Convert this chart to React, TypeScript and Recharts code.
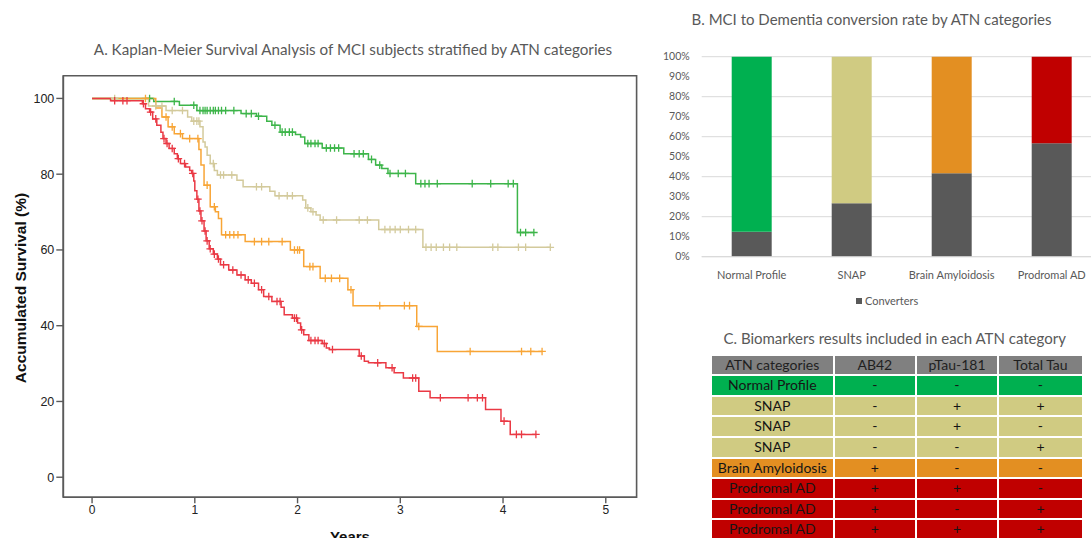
import React from 'react';
import {
  ComposedChart, Line, XAxis, YAxis, ReferenceArea,
  BarChart, Bar, CartesianGrid, Cell,
} from 'recharts';

// ---- A. Kaplan-Meier curves: [years, survival %] at each drop, plus censored times ----
const normalSteps = [
  [0, 100], [0.6, 99.2], [0.85, 98.2], [1.02, 96.8], [1.45, 96.0], [1.6, 95.3], [1.7, 94.0],
  [1.75, 92.9], [1.83, 91.1], [1.98, 90.5], [2.03, 89.8], [2.07, 88.1], [2.24, 86.9], [2.45, 85.4],
  [2.69, 83.9], [2.76, 82.4], [2.82, 81.5], [2.88, 80.2], [3.15, 77.5], [4.14, 64.6],
];
const normalCensored = [
  0.56, 0.8, 0.99, 1.05, 1.08, 1.1, 1.12, 1.15, 1.18, 1.2, 1.23, 1.26, 1.3, 1.38, 1.5, 1.55, 1.62,
  1.78, 1.85, 1.88, 1.92, 1.95, 2.1, 2.13, 2.17, 2.2, 2.28, 2.32, 2.36, 2.4, 2.55, 2.6, 2.64, 2.72,
  2.8, 2.9, 2.98, 3.05, 3.2, 3.24, 3.28, 3.36, 3.7, 3.88, 4.05, 4.1, 4.17, 4.22,
];
const normalEnd = 4.3;

const snapSteps = [
  [0, 100], [0.55, 98.0], [0.72, 96.8], [0.93, 95.1], [0.97, 94.0], [1.05, 92.5], [1.08, 88.5],
  [1.1, 87.2], [1.12, 85.0], [1.15, 82.8], [1.19, 81.0], [1.22, 79.8], [1.41, 78.4], [1.47, 76.7],
  [1.73, 75.5], [1.78, 74.3], [2.05, 73.2], [2.08, 71.1], [2.13, 70.1], [2.18, 69.2], [2.22, 67.9],
  [2.79, 65.4], [3.22, 60.7],
];
const snapCensored = [
  0.22, 0.62, 0.68, 0.78, 0.88, 0.99, 1.02, 1.04, 1.18, 1.25, 1.28, 1.36, 1.6, 1.65, 1.82, 1.9,
  1.95, 2.1, 2.15, 2.25, 2.38, 2.6, 2.68, 2.85, 2.9, 2.95, 3.0, 3.08, 3.15, 3.25, 3.3, 3.35, 3.42,
  3.48, 3.55, 3.9, 3.95, 4.15, 4.22,
];
const snapEnd = 4.46;

const amyloidSteps = [
  [0, 100], [0.62, 97.5], [0.68, 95.1], [0.74, 92.5], [0.8, 90.7], [0.88, 89.4], [1.04, 86.5],
  [1.06, 82.4], [1.09, 77.1], [1.15, 71.4], [1.2, 70.1], [1.23, 68.3], [1.26, 64.0], [1.49, 62.2],
  [1.93, 60.0], [2.06, 55.6], [2.22, 52.5], [2.49, 49.5], [2.54, 45.3], [3.16, 39.8], [3.36, 33.2],
];
const amyloidCensored = [
  0.52, 0.72, 0.78, 0.86, 0.95, 1.03, 1.12, 1.19, 1.3, 1.34, 1.38, 1.42, 1.58, 1.65, 1.72, 1.85,
  1.97, 2.0, 2.02, 2.12, 2.15, 2.27, 2.33, 2.41, 2.52, 2.8, 3.04, 3.09, 3.18, 3.68, 4.18, 4.27,
];
const amyloidEnd = 4.38;

const prodromalSteps = [
  [0, 100], [0.18, 99.4], [0.49, 98.6], [0.52, 97.3], [0.56, 96.4], [0.59, 94.6], [0.63, 92.9],
  [0.67, 91.1], [0.69, 89.4], [0.72, 88.1], [0.75, 86.8], [0.8, 85.4], [0.83, 84.1], [0.86, 82.8],
  [0.91, 81.9], [0.95, 81.0], [0.97, 80.2], [0.99, 78.2], [1.0, 75.6], [1.02, 73.4], [1.04, 70.3],
  [1.06, 67.7], [1.09, 65.0], [1.11, 62.4], [1.14, 60.3], [1.18, 58.9], [1.22, 57.6], [1.25, 56.1],
  [1.33, 54.7], [1.41, 53.4], [1.49, 52.1], [1.55, 51.2], [1.62, 49.5], [1.67, 47.7], [1.75, 46.4],
  [1.84, 44.9], [1.87, 42.9], [1.95, 42.0], [2.0, 40.7], [2.03, 38.9], [2.06, 37.6], [2.11, 36.1],
  [2.24, 35.3], [2.28, 34.1], [2.31, 33.7], [2.6, 32.0], [2.65, 30.6], [2.69, 30.2], [2.86, 28.9],
  [2.94, 27.6], [3.03, 26.2], [3.18, 22.7], [3.29, 21.0], [3.83, 17.9], [3.98, 14.8], [4.07, 11.3],
];
const prodromalCensored = [
  0.22, 0.3, 0.34, 0.5, 0.57, 0.62, 0.7, 0.73, 0.78, 0.84, 0.9, 0.98, 1.03, 1.05, 1.07, 1.1, 1.12,
  1.15, 1.19, 1.23, 1.28, 1.37, 1.45, 1.52, 1.58, 1.65, 1.72, 1.8, 1.83, 1.97, 1.99, 2.04, 2.13,
  2.17, 2.2, 2.26, 2.34, 2.62, 2.78, 2.92, 3.12, 3.15, 3.39, 3.66, 3.75, 3.8, 4.01, 4.13, 4.18,
];
const prodromalEnd = 4.32;

const yearTicks = [0, 1, 2, 3, 4, 5];
const survivalTicks = [0, 20, 40, 60, 80, 100];

// ---- B. conversion rate ----
const categories = ['Normal Profile', 'SNAP', 'Brain Amyloidosis', 'Prodromal AD'];
const converters = [12.5, 26.7, 41.7, 56.7];
const percentTicks = [0, 10, 20, 30, 40, 50, 60, 70, 80, 90, 100];

// ---- C. biomarker table ----
const tableHeader = ['ATN categories', 'AB42', 'pTau-181', 'Total Tau'];
const tableRows = [
  ['Normal Profile', '-', '-', '-'],
  ['SNAP', '-', '+', '+'],
  ['SNAP', '-', '+', '-'],
  ['SNAP', '-', '-', '+'],
  ['Brain Amyloidosis', '+', '-', '-'],
  ['Prodromal AD', '+', '+', '-'],
  ['Prodromal AD', '+', '-', '+'],
  ['Prodromal AD', '+', '+', '+'],
];

const KM_COLORS = { normal: '#3db54a', snap: '#d3ca9c', amyloid: '#f8a536', prodromal: '#ea3944' };
const CAT_COLORS: Record<string, string> = {
  'Normal Profile': '#00b050',
  SNAP: '#d0cb82',
  'Brain Amyloidosis': '#e38f22',
  'Prodromal AD': '#c00000',
};

const calibri = 'Lato, "Open Sans", sans-serif';
const spss = '"Liberation Sans Narrow", "Liberation Sans", Arial, sans-serif';

function kmRows(steps: number[][], censored: number[], end: number) {
  const valueAt = (x: number) => {
    let v = steps[0][1];
    for (const [t, s] of steps) if (t <= x) v = s;
    return v;
  };
  const rows = steps.map(([t, s]) => ({ t, s, c: false }));
  censored.forEach((t) => rows.push({ t, s: valueAt(t), c: true }));
  rows.push({ t: end, s: valueAt(end), c: true });
  return rows.sort((a, b) => a.t - b.t);
}

const censorDot = (color: string) => (props: any) => {
  const { cx, cy, payload, index } = props;
  if (!payload.c || cx == null) return <g key={`n-${index}`} />;
  return (
    <path
      key={`c-${index}`}
      d={`M${cx - 3.8},${cy}h7.6M${cx},${cy - 3.8}v7.6`}
      stroke={color}
      strokeWidth={1.3}
      fill="none"
    />
  );
};

const series = [
  { key: 'normal', rows: kmRows(normalSteps, normalCensored, normalEnd), color: KM_COLORS.normal },
  { key: 'snap', rows: kmRows(snapSteps, snapCensored, snapEnd), color: KM_COLORS.snap },
  { key: 'amyloid', rows: kmRows(amyloidSteps, amyloidCensored, amyloidEnd), color: KM_COLORS.amyloid },
  { key: 'prodromal', rows: kmRows(prodromalSteps, prodromalCensored, prodromalEnd), color: KM_COLORS.prodromal },
];

const barData = categories.map((name, i) => ({ name, conv: converters[i], rest: 100 - converters[i] }));

const X_MIN = -0.28;
const X_MAX = 5.3;
const Y_MIN = -5.3;
const Y_MAX = 106;

function SurvivalChart() {
  return (
    <ComposedChart width={650} height={538} margin={{ top: 75.7, right: 13.4, bottom: 0, left: 17.3 }}>
      <ReferenceArea x1={X_MIN} x2={X_MAX} y1={Y_MIN} y2={Y_MAX} fill="none" stroke="#5a5a5a" strokeWidth={1.6} />
      <XAxis
        dataKey="t"
        type="number"
        domain={[X_MIN, X_MAX]}
        ticks={yearTicks}
        allowDataOverflow
        height={40.7}
        tickSize={6}
        tickMargin={2}
        axisLine={{ stroke: '#5a5a5a', strokeWidth: 1.6 }}
        tickLine={{ stroke: '#5a5a5a', strokeWidth: 1.4 }}
        tick={{ fill: '#222', fontSize: 12, fontFamily: spss }}
        label={{ value: 'Years', position: 'insideBottom', offset: -4, fill: '#111', fontSize: 15, fontWeight: 700, fontFamily: spss }}
      />
      <YAxis
        type="number"
        domain={[Y_MIN, Y_MAX]}
        ticks={survivalTicks}
        allowDataOverflow
        width={46}
        tickSize={7}
        tickMargin={2}
        axisLine={{ stroke: '#5a5a5a', strokeWidth: 1.6 }}
        tickLine={{ stroke: '#5a5a5a', strokeWidth: 1.4 }}
        tick={{ fill: '#222', fontSize: 12.5, fontFamily: spss }}
        label={{
          content: () => (
            <text
              x={26}
              y={288}
              transform="rotate(-90 26 288)"
              textAnchor="middle"
              fill="#111"
              fontSize={15.5}
              fontWeight={700}
              fontFamily={'"Liberation Sans", Arial, sans-serif'}
            >
              Accumulated Survival (%)
            </text>
          ),
        }}
      />
      {series.map((s) => (
        <Line
          key={s.key}
          data={s.rows}
          dataKey="s"
          type="stepAfter"
          stroke={s.color}
          strokeWidth={1.5}
          dot={censorDot(s.color)}
          activeDot={false}
          isAnimationActive={false}
        />
      ))}
    </ComposedChart>
  );
}

function ConversionChart() {
  return (
    <BarChart width={460} height={320} data={barData} margin={{ top: 56.7, right: 8.3, bottom: 33.3, left: 0 }}>
      <CartesianGrid vertical={false} stroke="#d9d9d9" />
      <XAxis
        dataKey="name"
        height={30}
        axisLine={{ stroke: '#d9d9d9' }}
        tickLine={false}
        tickMargin={8}
        tick={{ fill: '#595959', fontSize: 11, fontFamily: calibri }}
      />
      <YAxis
        domain={[0, 100]}
        ticks={percentTicks}
        width={51.7}
        axisLine={false}
        tickLine={false}
        tickSize={6}
        tickMargin={6}
        tickFormatter={(v: number) => `${v}%`}
        tick={{ fill: '#595959', fontSize: 10.5, fontFamily: calibri }}
      />
      <Bar dataKey="conv" stackId="a" fill="#595959" barSize={40} isAnimationActive={false} />
      <Bar dataKey="rest" stackId="a" barSize={40} isAnimationActive={false}>
        {barData.map((d) => (
          <Cell key={d.name} fill={CAT_COLORS[d.name]} />
        ))}
      </Bar>
    </BarChart>
  );
}

function BiomarkerTable() {
  const cols = '121.3px 79.7px 80.6px 82.4px';
  const cell = (text: string, bg: string, i: number, header = false) => (
    <div
      key={i}
      style={{
        background: bg,
        height: 18.6,
        lineHeight: '18.6px',
        textAlign: 'center',
        color: header ? '#1f1f1f' : '#151515',
        fontSize: 14,
        fontFamily: calibri,
        whiteSpace: 'nowrap',
        overflow: 'hidden',
      }}
    >
      {text}
    </div>
  );
  return (
    <div
      style={{
        position: 'absolute',
        left: 711.7,
        top: 355.7,
        width: 370,
        display: 'grid',
        gridTemplateColumns: cols,
        columnGap: 2,
        rowGap: 2,
        background: '#fff',
      }}
    >
      {tableHeader.map((h, i) => cell(h, '#808080', i, true))}
      {tableRows.flatMap((row, r) =>
        row.map((v, i) => cell(v, CAT_COLORS[row[0]], 10 + r * 4 + i)),
      )}
    </div>
  );
}

const titleStyle: React.CSSProperties = {
  position: 'absolute',
  transform: 'translate(-50%, -50%)',
  whiteSpace: 'nowrap',
  color: '#595959',
  fontFamily: calibri,
};

export default function App() {
  return (
    <div style={{ position: 'absolute', left: 0, top: 0, width: 1091, height: 538, overflow: 'hidden', background: '#fff' }}>
      <div style={{ ...titleStyle, left: 353, top: 49, fontSize: 15.2 }}>
        A. Kaplan-Meier Survival Analysis of MCI subjects stratified by ATN categories
      </div>
      <div style={{ position: 'absolute', left: 0, top: 0 }}>
        <SurvivalChart />
      </div>

      <div style={{ ...titleStyle, left: 871.5, top: 19, fontSize: 15 }}>
        B. MCI to Dementia conversion rate by ATN categories
      </div>
      <div style={{ position: 'absolute', left: 650, top: 0 }}>
        <ConversionChart />
      </div>
      <div
        style={{
          position: 'absolute',
          left: 856,
          top: 294,
          display: 'flex',
          alignItems: 'center',
          fontSize: 11,
          color: '#595959',
          fontFamily: calibri,
        }}
      >
        <span style={{ display: 'inline-block', width: 6, height: 6, background: '#595959', marginRight: 3 }} />
        Converters
      </div>

      <div style={{ ...titleStyle, left: 894.7, top: 338.3, fontSize: 15 }}>
        C. Biomarkers results included in each ATN category
      </div>
      <BiomarkerTable />
    </div>
  );
}
